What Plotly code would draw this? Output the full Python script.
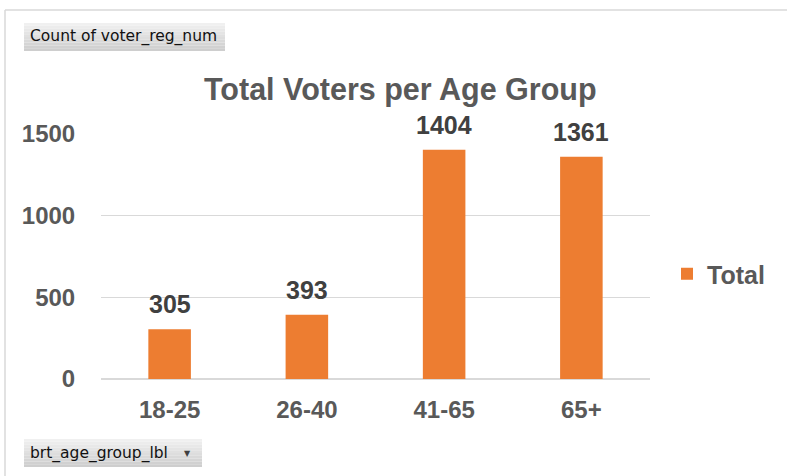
import plotly.graph_objects as go

categories = ["18-25", "26-40", "41-65", "65+"]
values = [305, 393, 1404, 1361]
series_name = "Total"
title_text = "Total Voters per Age Group"
value_button = "Count of voter_reg_num"
axis_button = "brt_age_group_lbl"

W, H = 787, 476
L, R, T, B = 101, 650, 134, 379

def px(x):
    return (x - L) / (R - L)

def py(y):
    return (B - y) / (B - T)

FONT = "Liberation Sans, Arial"

fig = go.Figure()
fig.add_trace(go.Bar(
    x=categories, y=values, name=series_name,
    marker=dict(color="#ED7D31", line=dict(width=0)),
    showlegend=True, hoverinfo="x+y",
))

shapes = []
# outer chart border
shapes.append(dict(type="line", xref="paper", yref="paper", x0=px(5), x1=px(790), y0=py(10), y1=py(10),
                   line=dict(color="#d9d9d9", width=1.5)))
shapes.append(dict(type="line", xref="paper", yref="paper", x0=px(5), x1=px(5), y0=py(10), y1=py(480),
                   line=dict(color="#d9d9d9", width=1.5)))

def button(x0, y0, x1, y1):
    n = 10
    for i in range(n):
        ya = y0 + (y1 - y0) * i / n
        yb = y0 + (y1 - y0) * (i + 1) / n
        g = int(240 - 34 * i / (n - 1))
        shapes.append(dict(type="rect", xref="paper", yref="paper", x0=px(x0), x1=px(x1),
                           y0=py(ya), y1=py(yb), fillcolor=f"rgb({g},{g},{g})",
                           line=dict(width=0), layer="below"))

button(24, 23, 225, 51)
button(24, 439, 202, 467)

annotations = [
    dict(text=value_button, xref="paper", yref="paper", x=px(28), y=py(37), xanchor="left", yanchor="middle",
         showarrow=False, font=dict(family="DejaVu Sans", size=15.5, color="#111111")),
    dict(text=axis_button, xref="paper", yref="paper", x=px(28), y=py(453), xanchor="left", yanchor="middle",
         showarrow=False, font=dict(family="DejaVu Sans", size=15.5, color="#111111")),
    dict(text="▼", xref="paper", yref="paper", x=px(187), y=py(453), xanchor="center", yanchor="middle",
         showarrow=False, font=dict(family="DejaVu Sans", size=8, color="#404040")),
    dict(text="<b>" + title_text + "</b>", xref="paper", yref="paper", x=px(400), y=py(89), xanchor="center",
         yanchor="middle", showarrow=False,
         font=dict(family=FONT, size=30.5, color="#595959")),
]

# data labels above bars
for c, v in zip(categories, values):
    annotations.append(dict(text="<b>%d</b>" % v, x=c, y=v, xref="x", yref="y", xanchor="center",
                            yanchor="bottom", yshift=9, showarrow=False,
                            font=dict(family=FONT, size=25, color="#404040")))

fig.update_layout(
    width=W, height=H,
    margin=dict(l=L, r=W - R, t=T, b=H - B, pad=0),
    paper_bgcolor="white", plot_bgcolor="white",
    bargap=0.69,
    shapes=shapes, annotations=annotations,
    legend=dict(x=px(667), y=py(274), xanchor="left", yanchor="middle",
                font=dict(family=FONT, size=25, color="#595959", weight="bold"),
                itemsizing="constant", bgcolor="rgba(0,0,0,0)"),
    xaxis=dict(showgrid=False, showline=False, ticks="outside", ticklen=9, tickcolor="rgba(0,0,0,0)",
               tickfont=dict(family=FONT, size=24, color="#595959", weight="bold"),
               fixedrange=True),
    yaxis=dict(range=[0, 1500], tickvals=[0, 500, 1000, 1500], showgrid=True, gridcolor="#d9d9d9",
               gridwidth=1, zeroline=True, zerolinecolor="#d9d9d9", zerolinewidth=1.5,
               ticks="outside", ticklen=20, tickcolor="rgba(0,0,0,0)",
               tickfont=dict(family=FONT, size=24, color="#595959", weight="bold"),
               fixedrange=True),
    showlegend=True,
)

fig.write_html("out.html", config={"displayModeBar": False},
               post_script="document.body.style.margin='0';document.body.style.overflow='hidden';")
